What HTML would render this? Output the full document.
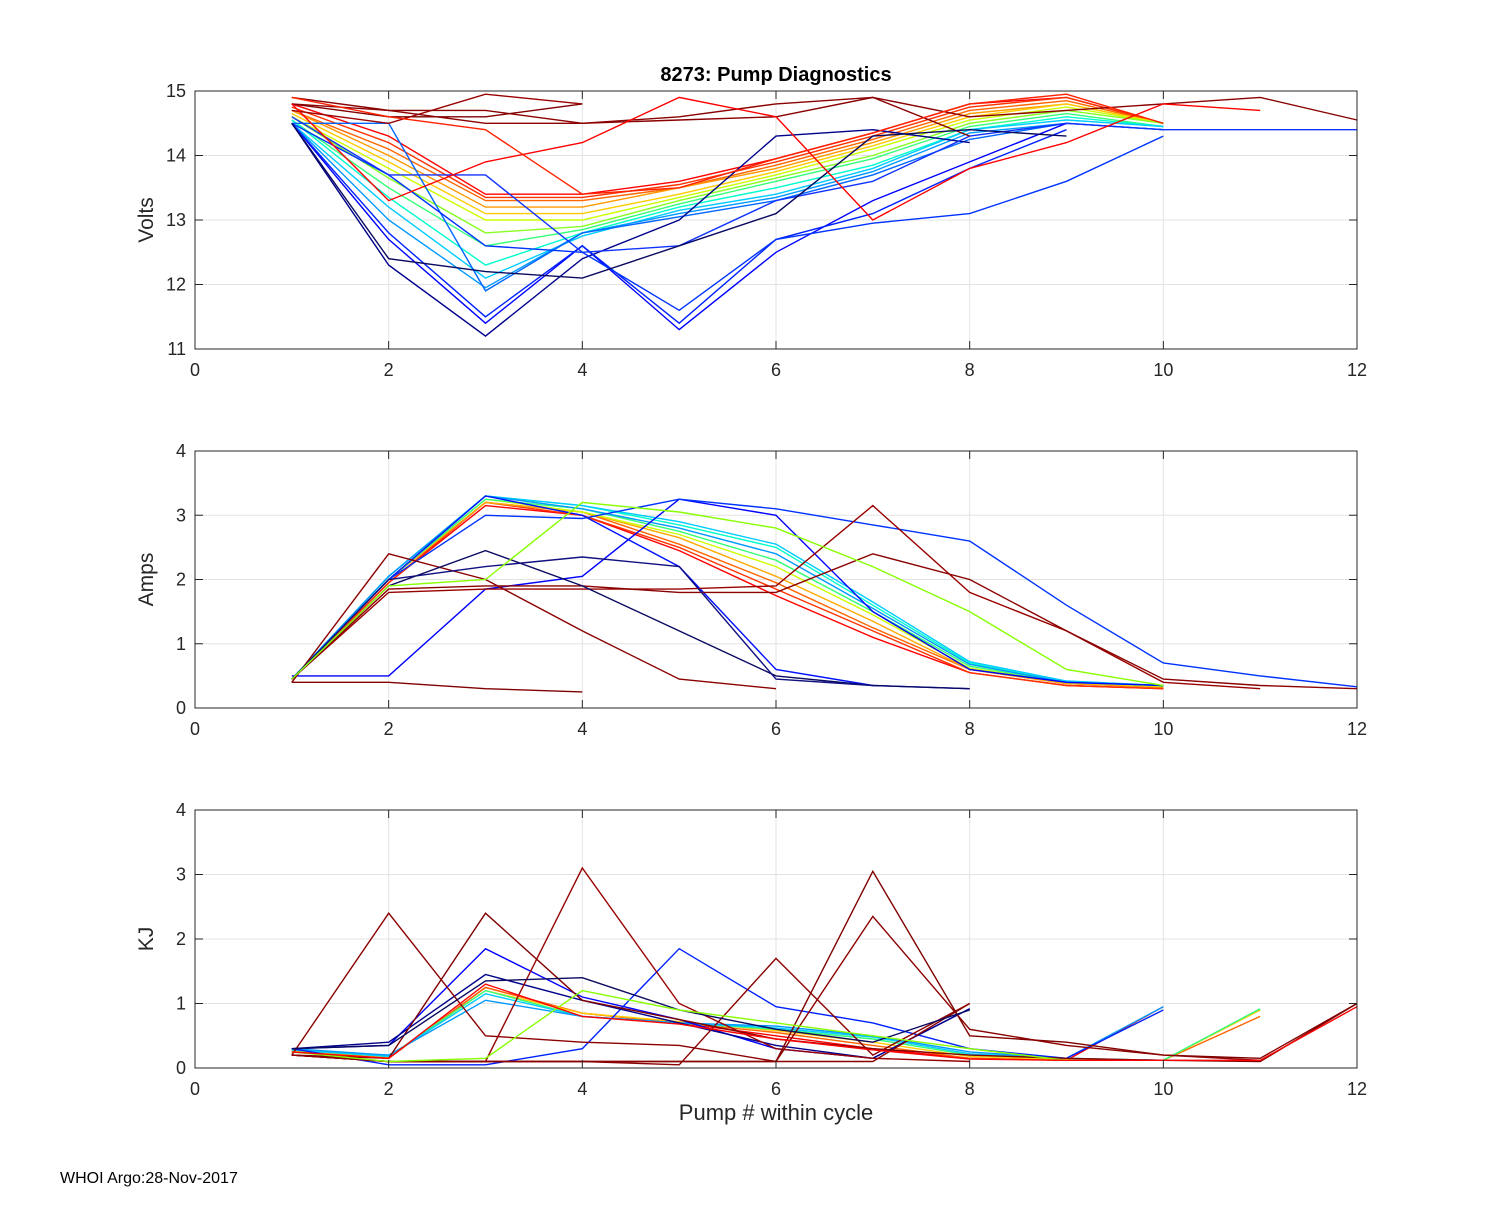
<!DOCTYPE html>
<html><head><meta charset="utf-8"><style>
body{margin:0;background:#fff;width:1500px;height:1200px;overflow:hidden;font-family:"Liberation Sans",sans-serif}
svg text{font-family:"Liberation Sans",sans-serif}
</style></head><body>
<svg id="c" width="1500" height="1200"></svg>
<script>
// ---- data ----
const xTicks=[0,2,4,6,8,10,12];
const voltTicks=[11,12,13,14,15];
const ampTicks=[0,1,2,3,4];
const kjTicks=[0,1,2,3,4];
const voltColors=['#ff0000','#ff3300','#ff6600','#ff9900','#ffcc00','#ccff00','#88ff22','#33ff77','#00ffcc','#00ccff','#0099ff','#0066ff','#00008b','#0000ff','#0022ff','#1133ff','#0033ff','#8b0000','#800000','#990000','#8b0000','#0a0a60','#ff0000','#ff2200'];
const voltSeries=[
[14.8,14.3,13.4,13.4,13.6,13.95,14.35,14.8,14.9,14.5],
[14.75,14.2,13.35,13.35,13.55,13.9,14.3,14.75,14.9,14.5],
[14.7,14.1,13.3,13.3,13.5,13.85,14.25,14.7,14.85,14.5],
[14.7,14.0,13.2,13.2,13.5,13.8,14.2,14.65,14.8,14.5],
[14.65,13.9,13.1,13.1,13.4,13.75,14.15,14.6,14.8,14.5],
[14.6,13.8,13.0,13.0,13.35,13.7,14.1,14.55,14.75,14.5],
[14.6,13.65,12.8,12.9,13.3,13.65,14.0,14.5,14.7,14.5],
[14.55,13.5,12.6,12.85,13.25,13.6,13.95,14.45,14.65,14.45],
[14.55,13.35,12.3,12.8,13.2,13.5,13.85,14.4,14.6,14.45],
[14.5,13.2,12.1,12.75,13.15,13.4,13.8,14.4,14.55,14.45],
[14.5,13.0,11.95,12.8,13.1,13.35,13.75,14.35,14.5,14.4],
[14.5,14.5,11.9,12.8,13.05,13.3,13.7,14.25,14.5,14.4],
[14.5,12.3,11.2,12.4,13.0,14.3,14.4,14.2],
[14.5,12.7,11.4,12.6,11.3,12.5,13.3,13.9,14.5],
[14.5,12.8,11.5,12.6,11.4,12.7,13.1,13.8,14.4],
[14.6,13.7,13.7,12.5,12.6,13.3,13.6,14.3,14.5,14.4,14.4,14.4],
[14.5,13.7,12.6,12.5,11.6,12.7,12.95,13.1,13.6,14.3],
[14.9,14.7,14.7,14.5,14.55,14.6,14.9,14.3],
[14.8,14.6,14.6,14.8],
[14.7,14.5,14.95,14.8],
[14.8,14.7,14.5,14.5,14.6,14.8,14.9,14.6,14.7,14.8,14.9,14.55],
[14.5,12.4,12.2,12.1,12.6,13.1,14.3,14.4,14.3],
[14.8,13.3,13.9,14.2,14.9,14.6,13.0,13.8,14.2,14.8,14.7],
[14.9,14.6,14.4,13.4,13.5,13.95,14.35,14.8,14.95,14.5]
];
const ampColors=['#ff0000','#ff3300','#ff6600','#ffaa00','#ccff00','#33ff77','#00ffcc','#00ccff','#0099ff','#0000ff','#0011ff','#0033ff','#8b0000','#800000','#990000','#8b0000','#0a0a60','#101080','#88ff00'];
const ampSeries=[
[0.45,1.95,3.15,3.0,2.45,1.75,1.1,0.55,0.35,0.3],
[0.45,1.95,3.2,3.0,2.5,1.85,1.2,0.55,0.35,0.3],
[0.45,2.0,3.2,3.05,2.55,1.95,1.25,0.6,0.38,0.32],
[0.45,2.0,3.2,3.05,2.65,2.05,1.35,0.6,0.38,0.33],
[0.45,2.0,3.25,3.05,2.7,2.2,1.45,0.62,0.4,0.34],
[0.45,2.0,3.25,3.1,2.75,2.3,1.5,0.65,0.4,0.35],
[0.45,2.05,3.3,3.15,2.85,2.5,1.6,0.7,0.4,0.35],
[0.45,2.05,3.3,3.15,2.9,2.55,1.65,0.72,0.42,0.35],
[0.45,2.05,3.3,3.1,2.8,2.4,1.55,0.68,0.4,0.35],
[0.5,0.5,1.85,2.05,3.25,3.0,1.5,0.6,0.4,0.35],
[0.45,2.0,3.3,3.0,2.2,0.6,0.35,0.3],
[0.45,2.0,3.0,2.95,3.25,3.1,2.85,2.6,1.6,0.7,0.5,0.33],
[0.4,2.4,2.0,1.2,0.45,0.3],
[0.4,0.4,0.3,0.25],
[0.45,1.8,1.85,1.85,1.85,1.9,3.15,1.8,1.2,0.4,0.3],
[0.45,1.85,1.9,1.9,1.8,1.8,2.4,2.0,1.2,0.45,0.35,0.3],
[0.45,1.9,2.45,1.9,1.2,0.5,0.35,0.3],
[0.45,2.0,2.2,2.35,2.2,0.45,0.35],
[0.45,1.9,2.0,3.2,3.05,2.8,2.2,1.5,0.6,0.35]
];
const kjColors=['#ff0000','#ff6600','#ffcc00','#33ff77','#00ccff','#0099ff','#0000ff','#0022ff','#00008b','#8b0000','#800000','#990000','#8b0000','#800000','#8b0000','#0a0a60','#88ff00','#ff0000'];
const kjSeries=[
[0.25,0.15,1.25,0.85,0.7,0.5,0.3,0.15,0.12,0.95],
[0.25,0.15,1.25,0.85,0.7,0.55,0.35,0.15,0.12,0.12,0.8],
[0.27,0.17,1.2,0.85,0.72,0.58,0.4,0.18,0.13,0.12,0.9],
[0.28,0.18,1.2,0.8,0.7,0.6,0.45,0.2,0.15,0.12,0.92],
[0.28,0.18,1.15,0.8,0.7,0.62,0.48,0.22,0.15,0.12],
[0.3,0.2,1.05,0.8,0.7,0.65,0.5,0.25,0.15,0.95],
[0.3,0.35,1.85,1.1,0.75,0.3,0.15,0.92],
[0.3,0.05,0.05,0.3,1.85,0.95,0.7,0.3,0.15,0.9],
[0.3,0.4,1.45,1.05,0.7,0.35,0.15,0.92],
[0.2,2.4,0.5,0.4,0.35,0.1,0.1,1.0],
[0.2,0.15,2.4,1.05,0.75,0.45,0.3,0.2,0.15,0.12,0.1,1.0],
[0.2,0.1,0.1,3.1,1.0,0.3,0.15,0.1],
[0.2,0.1,0.1,0.1,0.05,1.7,0.2,1.0],
[0.2,0.1,0.1,0.1,0.1,0.1,3.05,0.5,0.4,0.2,0.15,1.0],
[0.2,0.1,0.1,0.1,0.1,0.1,2.35,0.6,0.35,0.2,0.12],
[0.3,0.35,1.35,1.4,0.9,0.6,0.4,0.9],
[0.25,0.1,0.15,1.2,0.9,0.7,0.5,0.3,0.12],
[0.25,0.15,1.3,0.8,0.68,0.45,0.28,0.14,0.12,0.12,0.12,0.95]
];
// ---- drawing ----
const NS='http://www.w3.org/2000/svg',svg=document.getElementById('c');
function el(t,a,p){const e=document.createElementNS(NS,t);for(const k in a)e.setAttribute(k,a[k]);(p||svg).appendChild(e);return e;}
const X0=195,X1=1357;
function sx(v){return X0+(v-0)/12*(X1-X0);}
function panel(name,top,bot,ymin,ymax,yt,ylabel,series,colors){
  const g=el('g',{});
  
  
  const sy=v=>bot-(v-ymin)/(ymax-ymin)*(bot-top);
  el('rect',{x:X0,y:top,width:X1-X0,height:bot-top,fill:'#fff'},g);
  xTicks.forEach(t=>{el('line',{x1:sx(t),x2:sx(t),y1:top,y2:bot,stroke:'#e3e3e3','stroke-width':1},g);});
  yt.forEach(t=>{el('line',{x1:X0,x2:X1,y1:sy(t),y2:sy(t),stroke:'#e3e3e3','stroke-width':1},g);});
  series.forEach((s,i)=>{
    const pts=s.map((v,j)=>sx(j+1).toFixed(1)+','+sy(v).toFixed(1)).join(' ');
    const pl=el('polyline',{points:pts,fill:'none',stroke:colors[i%colors.length],'stroke-width':1.4},g);
    
    
  });
  el('rect',{x:X0,y:top,width:X1-X0,height:bot-top,fill:'none',stroke:'#262626','stroke-width':1},g);
  xTicks.forEach(t=>{
    el('line',{x1:sx(t),x2:sx(t),y1:bot,y2:bot-8,stroke:'#262626'},g);
    el('line',{x1:sx(t),x2:sx(t),y1:top,y2:top+8,stroke:'#262626'},g);
    const tx=el('text',{x:sx(t),y:bot+27,'text-anchor':'middle','font-size':18,fill:'#262626'},g);tx.textContent=t;
    
    
  });
  yt.forEach(t=>{
    el('line',{x1:X0,x2:X0+8,y1:sy(t),y2:sy(t),stroke:'#262626'},g);
    el('line',{x1:X1,x2:X1-8,y1:sy(t),y2:sy(t),stroke:'#262626'},g);
    const tx=el('text',{x:X0-9,y:sy(t)+6,'text-anchor':'end','font-size':18,fill:'#262626'},g);tx.textContent=t;
    
    
  });
  const yl=el('text',{x:0,y:0,transform:`translate(${X0-42},${(top+bot)/2}) rotate(-90)`,'text-anchor':'middle','font-size':21,fill:'#262626'},g);
  yl.textContent=ylabel;
  
  
}
panel('volts',91,349,11,15,voltTicks,'Volts',voltSeries,voltColors);
panel('amps',451,708,0,4,ampTicks,'Amps',ampSeries,ampColors);
panel('kj',810,1068,0,4,kjTicks,'KJ',kjSeries,kjColors);
let t=el('text',{x:776,y:81,'text-anchor':'middle','font-size':20,'font-weight':'bold',fill:'#000'});t.textContent='8273: Pump Diagnostics';


t=el('text',{x:776,y:1120,'text-anchor':'middle','font-size':22,fill:'#262626'});t.textContent='Pump # within cycle';


t=el('text',{x:60,y:1183,'font-size':16,fill:'#000'});t.textContent='WHOI Argo:28-Nov-2017';


</script>
</body></html>
